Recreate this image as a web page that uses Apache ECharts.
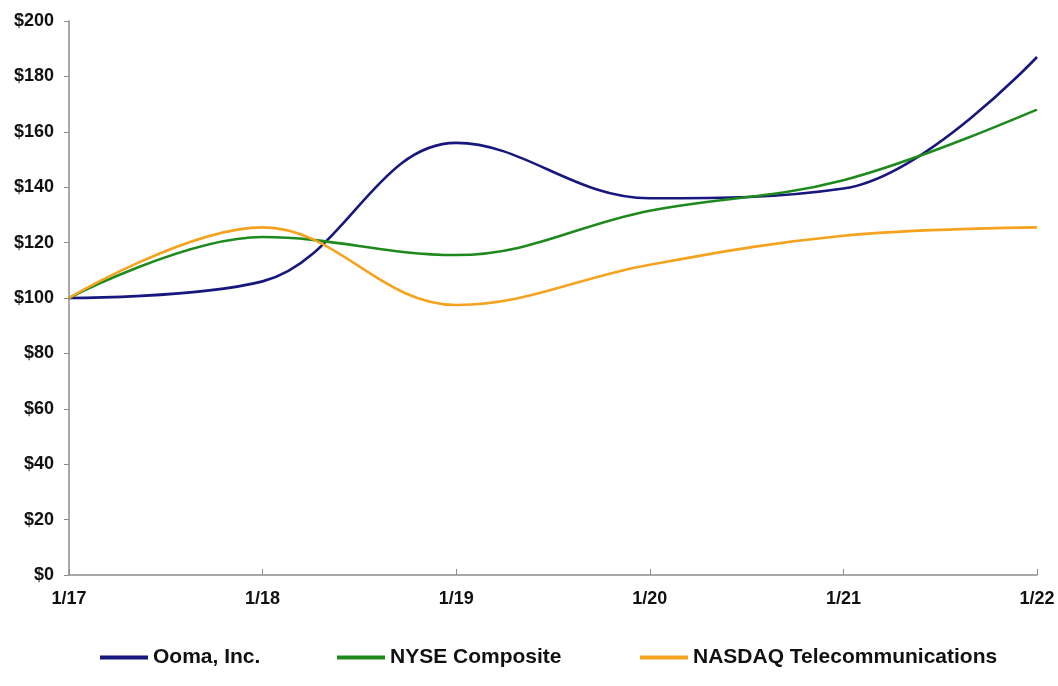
<!DOCTYPE html>
<html>
<head>
<meta charset="utf-8">
<script src="https://cdn.jsdelivr.net/npm/echarts@6/dist/echarts.min.js"></script>
<style>
  html, body { margin: 0; padding: 0; background: #fff; }
  #chart { width: 1058px; height: 686px; }
</style>
</head>
<body>
<div id="chart"></div>
<script>
// categories + series
var years = ['1/17', '1/18', '1/19', '1/20', '1/21', '1/22'];
var ooma = [100, 106, 156, 136, 139.5, 187];
var nyse = [100, 122, 115.5, 131.5, 142.5, 168];
var nasdaq = [100, 125.5, 97.5, 112, 122.5, 125.5];

var names = ['Ooma, Inc.', 'NYSE Composite', 'NASDAQ Telecommunications'];
var colors = ['#17177e', '#1e8a1e', '#f5a31e'];
var legendLeft = [100, 337, 640];

var font = 'Liberation Sans, Arial, sans-serif';

function line(name, data, color) {
  return {
    name: name,
    type: 'line',
    data: data,
    smooth: 0.38,
    symbol: 'none',
    lineStyle: { color: color, width: 2.6 },
    itemStyle: { color: color }
  };
}

// one legend per entry so each sits where the original has it
var legends = names.map(function (n, i) {
  return {
    data: [n],
    left: legendLeft[i],
    top: 647,
    padding: 0,
    icon: 'rect',
    itemWidth: 48,
    itemHeight: 4,
    textStyle: { color: '#111', fontFamily: font, fontWeight: 'bold', fontSize: 21 }
  };
});

var chart = echarts.init(document.getElementById('chart'));
chart.setOption({
  animation: false,
  grid: { left: 69, right: 21, top: 21, bottom: 111 },
  xAxis: {
    type: 'category',
    data: years,
    boundaryGap: false,
    axisLine: { lineStyle: { color: '#8c8c8c', width: 1.5 } },
    axisTick: { inside: true, length: 6, lineStyle: { color: '#8c8c8c' } },
    axisLabel: { color: '#111', fontFamily: font, fontWeight: 'bold', fontSize: 18, margin: 15 },
    splitLine: { show: false }
  },
  yAxis: {
    type: 'value',
    min: 0,
    max: 200,
    interval: 20,
    axisLine: { show: true, lineStyle: { color: '#8c8c8c', width: 1.5 } },
    axisTick: { show: true, length: 5, lineStyle: { color: '#8c8c8c' } },
    axisLabel: { color: '#111', fontFamily: font, fontWeight: 'bold', fontSize: 18, margin: 15,
      formatter: function (v) { return '$' + v; } },
    splitLine: { show: false }
  },
  legend: legends,
  series: [
    line(names[0], ooma, colors[0]),
    line(names[1], nyse, colors[1]),
    line(names[2], nasdaq, colors[2])
  ]
});
</script>
</body>
</html>
